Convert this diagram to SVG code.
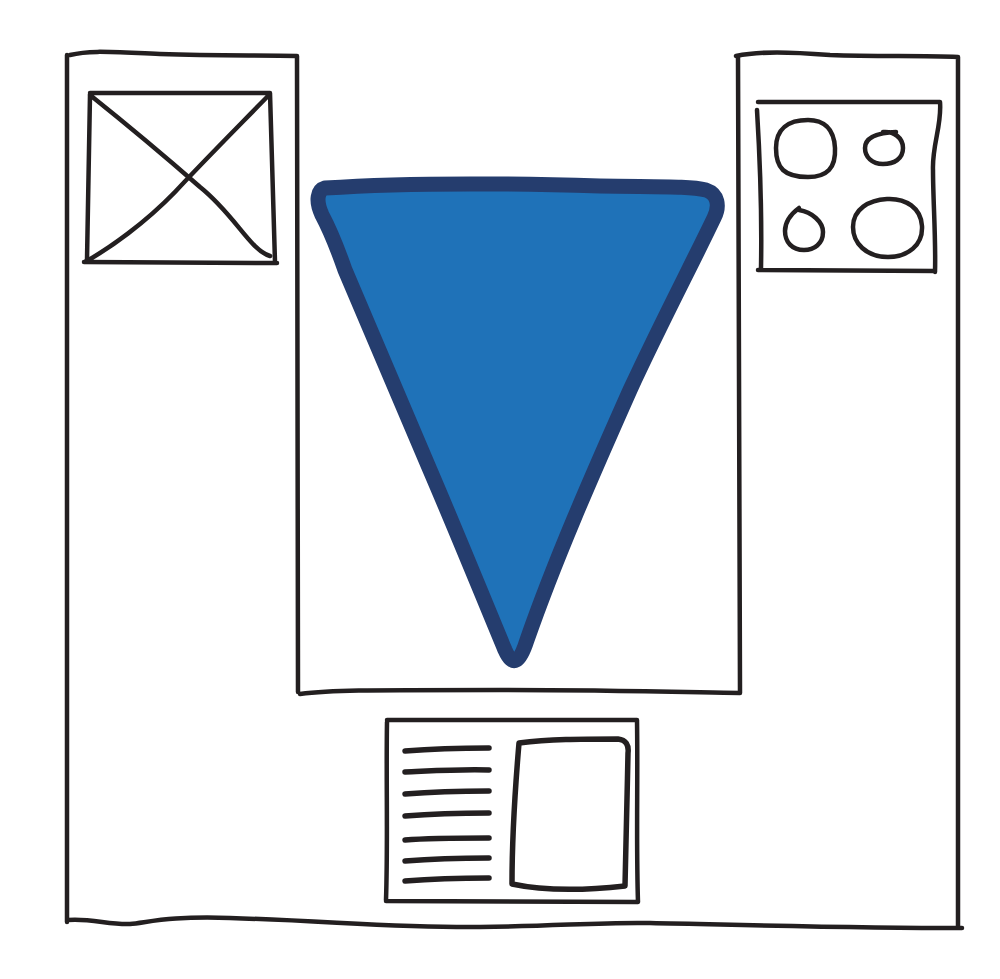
<svg xmlns="http://www.w3.org/2000/svg" width="1000" height="979" viewBox="0 0 1000 979">
<style>
.ink{fill:none;stroke:#231f20;stroke-width:4.5;stroke-linecap:round;stroke-linejoin:round}
.ink5{fill:none;stroke:#231f20;stroke-width:5.5;stroke-linecap:round;stroke-linejoin:round}
</style>
<rect width="1000" height="979" fill="#ffffff"/>
<g id="frame">
<path class="ink" d="M67,55 L67,922 M70,55 C90,50 110,52 160,54 C220,56 260,55 297,56 L298,692 M300,694 C330,690 360,690 500,690 C600,690 680,692 740,693 L738,56 M736,56 C760,51 790,52 830,55 C880,57 920,55 958,57 L958,928 M68,920 C90,918 110,925 130,924 C150,922 170,916 230,918 C330,921 400,928 480,927 C560,926 600,922 650,923 C750,925 850,928 962,928"/>
</g>
<g id="image-placeholder">
<path class="ink" d="M90,93 L270,93 L275,262 M84,262 L277,263 M90,95 L87,260 M90,95 C130,127 160,152 200,187 C235,215 250,250 270,256 M268,96 C220,145 200,165 175,192 C145,223 110,248 85,262"/>
</g>
<g id="shapes-panel">
<path class="ink" d="M758,102 L940,102 C942,125 932,145 933,170 C933,200 936,240 935,272 M758,270 L935,271 M757,110 C760,160 762,215 761,268"/>
<path class="ink" d="M808,120 C823,120 834,128 835,148 C836,168 827,177 808,177 C784,177 776,168 776,148 C776,129 788,120 808,120 Z"/>
<path class="ink" d="M883,132 C894,131 903,138 903,148 C903,159 894,164 883,164 C872,164 865,157 865,148 C865,139 873,133 896,132"/>
<path class="ink" d="M799,210 C812,212 823,222 823,232 C823,244 814,250 804,250 C792,250 785,242 785,231 C785,219 795,211 799,208"/>
<path class="ink" d="M887,199 C906,198 921,208 922,226 C923,245 908,257 888,257 C866,257 853,243 853,227 C853,209 869,200 887,199 Z"/>
</g>
<g id="triangle">
<path d="M325,188 C400,183 500,183 600,186 C660,187 690,186 706,190 C718,194 720,206 714,218 C690,268 660,325 630,390 C590,480 555,560 527,640 C520,662 513,668 505,650 C480,590 460,540 430,470 C400,400 375,340 345,270 C338,250 330,230 322,215 C315,200 318,190 325,188 Z" fill="#1f72b8" stroke="#253d6e" stroke-width="15" stroke-linejoin="round"/>
</g>
<g id="article-card">
<path class="ink" d="M387,720 L637,720 C638,780 636,840 638,902 M386,901 L637,902 M387,722 C386,780 388,840 386,900"/>
<path class="ink5" d="M405,751 C430,749 460,748 489,748 M405,772 C430,771 460,769 489,770 M405,794 C430,792 460,791 489,791 M405,816 C430,814 460,813 489,813 M405,840 C430,838 460,838 489,838 M405,861 C430,859 460,858 489,858 M405,881 C430,879 460,878 489,878"/>
<path class="ink5" d="M519,743 C550,739 580,739 618,739 C626,740 629,745 628,753 C627,800 626,850 625,886 C580,891 540,890 512,884 C512,840 515,790 519,743 Z"/>
</g>
</svg>
